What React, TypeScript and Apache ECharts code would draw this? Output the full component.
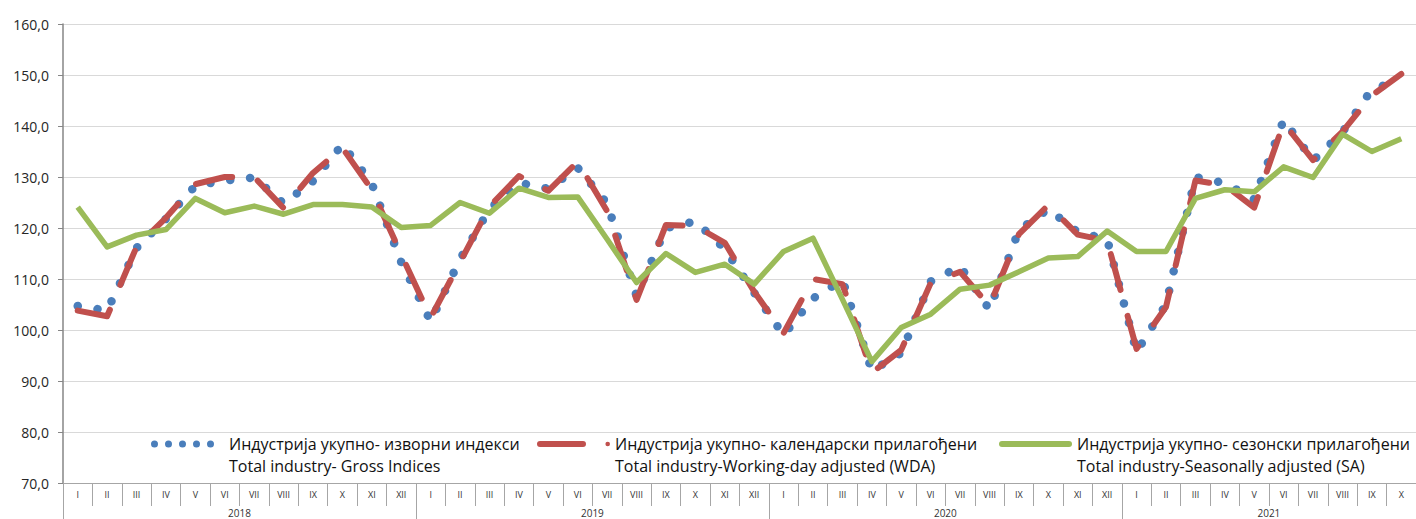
import React, { useEffect, useRef } from 'react';
import * as echarts from 'echarts';

const years = ['2018', '2019', '2020', '2021'];
const monthsPerYear = [12, 12, 12, 10];
const monthNames = ['I', 'II', 'III', 'IV', 'V', 'VI', 'VII', 'VIII', 'IX', 'X', 'XI', 'XII'];

const namesSr = [
  'Индустрија укупно- изворни индекси',
  'Индустрија укупно- календарски прилагођени',
  'Индустрија укупно- сезонски прилагођени',
];
const namesEn = [
  'Total industry- Gross Indices',
  'Total industry-Working-day adjusted (WDA)',
  'Total industry-Seasonally adjusted (SA)',
];

const gross = [
  104.7, 103.8, 116.1, 121.8, 128.3, 129.3, 129.9, 124.8, 129.2, 136.4, 128.7, 113.3,
  101.7, 113.9, 123.7, 128.9, 127.7, 131.8, 124.8, 106.7, 120.0, 121.3, 115.9, 107.3,
  99.0, 106.2, 109.8, 92.0, 95.5, 109.5, 112.5, 104.0, 119.6, 123.7, 119.2, 117.8,
  95.7, 105.0, 130.0, 128.8, 125.6, 141.2, 133.2, 138.8, 147.2, 149.0,
];
const wda = [
  103.8, 102.7, 116.3, 122.0, 128.6, 130.0, 130.0, 123.9, 130.8, 135.7, 127.5, 114.8,
  102.4, 113.3, 124.2, 130.2, 127.3, 133.0, 123.3, 105.9, 120.6, 120.4, 117.1, 107.5,
  99.4, 110.0, 109.0, 91.6, 96.1, 109.2, 111.4, 104.7, 118.8, 124.5, 118.7, 117.5,
  96.3, 104.5, 129.3, 128.4, 124.0, 140.6, 133.3, 138.9, 146.0, 150.2,
];
const sa = [
  124.1, 116.3, 118.6, 119.7, 125.8, 123.0, 124.3, 122.7, 124.6, 124.6, 124.1, 120.1,
  120.5, 125.0, 122.9, 127.8, 126.0, 126.1, 117.8, 109.3, 115.0, 111.3, 112.9, 109.0,
  115.4, 118.0, 106.0, 93.8, 100.5, 103.1, 108.0, 108.8, 111.4, 114.1, 114.4, 119.4,
  115.4, 115.4, 125.8, 127.5, 127.1, 132.0, 129.9, 138.4, 135.0, 137.5,
];

const yMin = 70;
const yMax = 160;
const yStep = 10;

const colors = ['#4a7ebb', '#c0504d', '#9bbb59'];

const FONT = 'Open Sans';

export default function App() {
  const ref = useRef<HTMLDivElement>(null);

  useEffect(() => {
    if (!ref.current) return;
    const chart = echarts.init(ref.current, null, { renderer: 'svg' });

    const monthCats: string[] = [];
    const yearCats: string[] = [];
    const yearStart: Record<number, boolean> = {};
    const yearMid: Record<number, boolean> = {};
    let idx = 0;
    years.forEach((y, yi) => {
      const n = monthsPerYear[yi];
      yearStart[idx] = true;
      yearMid[idx + Math.floor(n / 2)] = true;
      for (let m = 0; m < n; m++) {
        monthCats.push(monthNames[m]);
        yearCats.push(y);
      }
      idx += n;
    });

    const gridLeft = 63;
    const gridWidth = 1357;
    const band = gridWidth / monthCats.length;

    const blueIcon =
      'path://' +
      [3.5, 17.5, 31.5, 45.5, 59.5]
        .map((c) => `M${c - 3.5},3.5 a3.5,3.5 0 1,0 7,0 a3.5,3.5 0 1,0 -7,0 Z`)
        .join(' ');
    const redIcon =
      'path://M3,0 L46,0 A3,3 0 0,1 46,6 L3,6 A3,3 0 0,1 3,0 Z M68.4,3 a2.3,2.3 0 1,0 4.6,0 a2.3,2.3 0 1,0 -4.6,0 Z';
    const greenIcon = 'path://M3,0 L70,0 A3,3 0 0,1 70,6 L3,6 A3,3 0 0,1 3,0 Z';

    const legendText = (padLeft: number) => ({
      fontFamily: FONT,
      fontSize: 16,
      lineHeight: 22,
      color: '#111',
      padding: [0, 0, 0, padLeft],
    });

    const option: any = {
      animation: false,
      backgroundColor: '#ffffff',
      textStyle: { fontFamily: FONT },
      grid: { left: gridLeft, top: 24, width: gridWidth, height: 459, containLabel: false },
      legend: [
        {
          left: 151,
          top: 411,
          padding: 0,
          itemWidth: 63,
          itemHeight: 7,
          selectedMode: false,
          data: [{ name: namesSr[0], icon: blueIcon, itemStyle: { color: colors[0], borderWidth: 0 } }],
          formatter: (n: string) => '\n' + n + '\n' + namesEn[0],
          textStyle: legendText(10),
        },
        {
          left: 537,
          top: 411,
          padding: 0,
          itemWidth: 73,
          itemHeight: 6,
          selectedMode: false,
          data: [{ name: namesSr[1], icon: redIcon, itemStyle: { color: colors[1], borderWidth: 0 } }],
          formatter: (n: string) => '\n' + n + '\n' + namesEn[1],
          textStyle: legendText(0),
        },
        {
          left: 999,
          top: 411,
          padding: 0,
          itemWidth: 73,
          itemHeight: 6,
          selectedMode: false,
          data: [{ name: namesSr[2], icon: greenIcon, itemStyle: { color: colors[2], borderWidth: 0 } }],
          formatter: (n: string) => '\n' + n + '\n' + namesEn[2],
          textStyle: legendText(0),
        },
      ],
      xAxis: [
        {
          type: 'category',
          data: monthCats,
          boundaryGap: true,
          position: 'bottom',
          axisLine: { show: true, lineStyle: { color: '#a6a6a6', width: 1 } },
          axisTick: { show: true, interval: 0, length: 23, lineStyle: { color: '#a6a6a6', width: 1 } },
          axisLabel: { interval: 0, fontSize: 9, color: '#333', margin: 7, fontFamily: FONT },
          splitLine: { show: false },
        },
        {
          type: 'category',
          data: yearCats,
          boundaryGap: true,
          position: 'bottom',
          axisLine: { show: false },
          axisTick: {
            show: true,
            interval: (i: number) => !!yearStart[i],
            length: 36,
            lineStyle: { color: '#a6a6a6', width: 1 },
          },
          axisLabel: {
            interval: (i: number) => !!yearMid[i],
            fontSize: 10,
            color: '#333',
            margin: 25,
            fontFamily: FONT,
            padding: [0, band, 0, 0],
          },
          splitLine: { show: false },
        },
      ],
      yAxis: {
        type: 'value',
        min: yMin,
        max: yMax,
        interval: yStep,
        axisLine: { show: true, lineStyle: { color: '#868686', width: 1.5 } },
        axisTick: { show: true, length: 5, lineStyle: { color: '#868686', width: 1 } },
        axisLabel: {
          formatter: (v: number) => v.toFixed(1).replace('.', ','),
          fontSize: 14,
          color: '#262626',
          margin: 14,
          fontFamily: FONT,
        },
        splitLine: { show: true, lineStyle: { color: '#d9d9d9', width: 1 } },
      },
      series: [
        {
          name: namesSr[0],
          type: 'line',
          data: gross,
          symbol: 'none',
          silent: true,
          emphasis: { disabled: true },
          itemStyle: { color: colors[0] },
          lineStyle: { color: colors[0], width: 8.5, type: [0.1, 19.9], cap: 'round', join: 'round' },
        },
        {
          name: namesSr[1],
          type: 'line',
          data: wda,
          symbol: 'none',
          silent: true,
          emphasis: { disabled: true },
          itemStyle: { color: colors[1] },
          lineStyle: { color: colors[1], width: 6, type: [37, 27], cap: 'round', join: 'round' },
        },
        {
          name: namesSr[2],
          type: 'line',
          data: sa,
          symbol: 'none',
          silent: true,
          emphasis: { disabled: true },
          itemStyle: { color: colors[2] },
          lineStyle: { color: colors[2], width: 5.5, join: 'round' },
        },
      ],
    };

    chart.setOption(option);
    return () => chart.dispose();
  }, []);

  return (
    <div
      ref={ref}
      style={{ position: 'fixed', left: 0, top: 0, width: 1416, height: 519, background: '#fff' }}
    />
  );
}
